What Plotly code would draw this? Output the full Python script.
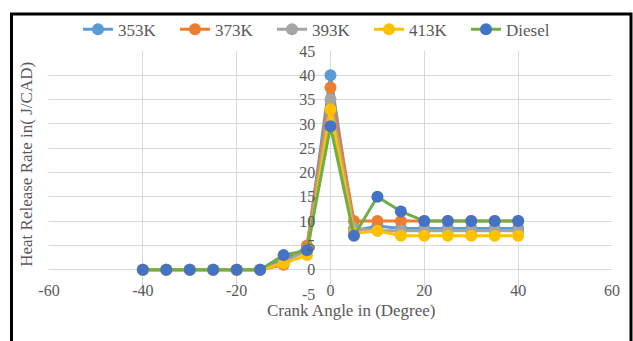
import plotly.graph_objects as go

# Crank angle (degrees) and heat release rate (J/CAD) for each intake temperature and diesel
crank_angle = [-40, -35, -30, -25, -20, -15, -10, -5, 0, 5, 10, 15, 20, 25, 30, 35, 40]
hrr_353k = [0, 0, 0, 0, 0, 0, 2, 4.5, 40, 8, 9, 8.5, 8.5, 8.5, 8.5, 8.5, 8.5]
hrr_373k = [0, 0, 0, 0, 0, 0, 1, 5, 37.5, 10, 10, 10, 10, 10, 10, 10, 10]
hrr_393k = [0, 0, 0, 0, 0, 0, 1.5, 4, 35, 8.5, 8, 8, 8, 8, 8, 8, 8]
hrr_413k = [0, 0, 0, 0, 0, 0, 1.3, 3, 33, 7.5, 8, 7, 7, 7, 7, 7, 7]
hrr_diesel = [0, 0, 0, 0, 0, 0, 3, 4, 29.5, 7, 15, 12, 10, 10, 10, 10, 10]

series_names = ["353K", "373K", "393K", "413K", "Diesel"]
x_ticks = [-60, -40, -20, 0, 20, 40, 60]
y_ticks = [-5, 0, 5, 10, 15, 20, 25, 30, 35, 40, 45]

W, H = 633, 341
ML, MR, MT, MB = 49, 21, 42, 47
PW, PH = W - ML - MR, H - MT - MB


def px_x(px):
    return (px - ML) / PW


def px_y(py):
    return (H - MB - py) / PH


SERIF = "Times New Roman"
TXT = "#595959"

styles = [
    ("#5B9BD5", "#5B9BD5"),
    ("#ED7D31", "#ED7D31"),
    ("#A5A5A5", "#A5A5A5"),
    ("#FFC000", "#FFC000"),
    ("#70AD47", "#4472C4"),
]
values = [hrr_353k, hrr_373k, hrr_393k, hrr_413k, hrr_diesel]

fig = go.Figure()
for name, ys, (lc, mc) in zip(series_names, values, styles):
    fig.add_trace(go.Scatter(
        x=crank_angle, y=ys, name=name, mode="lines+markers",
        line=dict(color=lc, width=3),
        marker=dict(color=mc, size=12, line=dict(width=0)),
    ))

fig.update_layout(
    template="none",
    width=W, height=H,
    margin=dict(l=ML, r=MR, t=MT, b=MB),
    paper_bgcolor="white", plot_bgcolor="white",
    font=dict(family=SERIF, color=TXT, size=15),
    showlegend=True,
    legend=dict(
        orientation="h", x=px_x(78), y=px_y(20), xanchor="left", yanchor="middle",
        font=dict(family=SERIF, size=17, color=TXT),
        entrywidth=52, entrywidthmode="pixels",
        bgcolor="rgba(0,0,0,0)",
    ),
    xaxis=dict(
        range=[-60, 60], tickvals=x_ticks, ticktext=[str(v) for v in x_ticks],
        showgrid=True, gridcolor="#D9D9D9", gridwidth=1,
        zeroline=False, showline=False,
        ticks="", ticklabelstandoff=-15,
        tickfont=dict(family=SERIF, size=16, color=TXT),
    ),
    yaxis=dict(
        range=[-5, 45], tickvals=y_ticks, ticktext=[str(v) for v in y_ticks],
        showgrid=True, gridcolor="#D9D9D9", gridwidth=1,
        zeroline=False, showline=False,
        anchor="free", position=0.5,
        ticks="outside", ticklen=12, tickcolor="rgba(0,0,0,0)",
        tickfont=dict(family=SERIF, size=16, color=TXT),
    ),
    annotations=[
        dict(text="Crank Angle in (Degree)", xref="paper", yref="paper",
             x=px_x(351), y=px_y(311), xanchor="center", yanchor="middle",
             showarrow=False, font=dict(family=SERIF, size=17, color=TXT)),
        dict(text="Heat Release Rate in( J/CAD)", xref="paper", yref="paper",
             x=px_x(27), y=px_y(160), xanchor="center", yanchor="middle",
             textangle=-90, showarrow=False,
             font=dict(family=SERIF, size=17, color=TXT)),
    ],
    shapes=[
        dict(type="rect", xref="paper", yref="paper",
             x0=px_x(11.5), x1=px_x(631), y0=px_y(3.5), y1=px_y(348),
             line=dict(color="black", width=3), fillcolor="rgba(0,0,0,0)",
             layer="above"),
    ],
)

fig.write_html("out.html")
